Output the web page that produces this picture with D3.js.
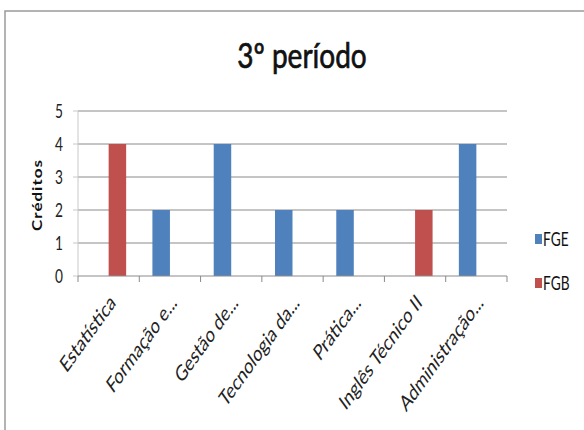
<!DOCTYPE html>
<html>
<head>
<meta charset="utf-8">
<script src="https://cdn.jsdelivr.net/npm/d3@7"></script>
<style>
  body { margin: 0; background: #fff; }
  text { font-family: Lato, "Noto Sans", sans-serif; }
</style>
</head>
<body>
<div id="chart"></div>
<script>
// chart values
const categories = ["Estatística", "Formação e...", "Gestão de...", "Tecnologia da...",
    "Prática...", "Inglês Técnico II", "Administração..."];
const seriesNames = ["FGE", "FGB"];
const fgeValues = [0, 2, 4, 2, 2, 0, 4];
const fgbValues = [4, 0, 0, 0, 0, 2, 0];
const yTicks = [0, 1, 2, 3, 4, 5];
const titleText = "3º período";
const yTitle = "Créditos";

const colors = {FGE: "#4f81bd", FGB: "#c0504d"};
const width = 584, height = 430;
const sx = 0.72; // picture is squeezed sideways

let svg = d3.select("#chart").append("svg")
    .attr("width", width)
    .attr("height", height);

// outer chart border
svg.append("rect")
    .attr("x", 5).attr("y", 11)
    .attr("width", 620).attr("height", 460)
    .attr("fill", "#fff")
    .attr("stroke", "#9a9a9a")
    .attr("stroke-width", 1.5);

let x = d3.scaleBand()
    .domain(categories)
    .range([78, 507]);

let x1 = d3.scaleBand()
    .domain(seriesNames)
    .range([0, x.bandwidth()])
    .paddingOuter(0.75);

let y = d3.scaleLinear()
    .domain([0, 5])
    .range([276, 111]);

// gridlines
svg.append("g").selectAll("line")
    .data(yTicks.filter(d => d > 0))
    .enter()
    .append("line")
    .attr("x1", x.range()[0]).attr("x2", x.range()[1])
    .attr("y1", d => y(d)).attr("y2", d => y(d))
    .attr("stroke", "#8a8a8a")
    .attr("stroke-width", 1);

// y axis line + ticks
svg.append("line")
    .attr("x1", 78).attr("x2", 78)
    .attr("y1", y(5)).attr("y2", y(0))
    .attr("stroke", "#c8c8c8");
svg.append("g").selectAll("line")
    .data(yTicks)
    .enter()
    .append("line")
    .attr("x1", 73).attr("x2", 78)
    .attr("y1", d => y(d)).attr("y2", d => y(d))
    .attr("stroke", "#c8c8c8");

svg.append("g").selectAll("text")
    .data(yTicks)
    .enter()
    .append("text")
    .attr("transform", d => `translate(63,${y(d) + 7}) scale(${sx},1)`)
    .attr("text-anchor", "end")
    .attr("font-size", 19)
    .attr("fill", "#222")
    .text(d => d);

// bars
let rows = categories.map((c, i) => ({cat: c, FGE: fgeValues[i], FGB: fgbValues[i]}));
let groups = svg.append("g").selectAll("g")
    .data(rows)
    .enter()
    .append("g")
    .attr("transform", d => `translate(${x(d.cat)},0)`);

groups.selectAll("rect")
    .data(d => seriesNames.map(s => ({key: s, value: d[s]})))
    .enter()
    .append("rect")
    .attr("x", d => x1(d.key))
    .attr("width", x1.bandwidth())
    .attr("y", d => y(d.value))
    .attr("height", d => y(0) - y(d.value))
    .attr("fill", d => colors[d.key]);

// x axis line + ticks
svg.append("line")
    .attr("x1", 78).attr("x2", 507)
    .attr("y1", y(0)).attr("y2", y(0))
    .attr("stroke", "#8a8a8a");
svg.append("g").selectAll("line")
    .data(categories.concat(["end"]))
    .enter()
    .append("line")
    .attr("x1", (d, i) => 78 + i * x.bandwidth())
    .attr("x2", (d, i) => 78 + i * x.bandwidth())
    .attr("y1", y(0)).attr("y2", y(0) + 6)
    .attr("stroke", "#8a8a8a");

// category labels
svg.append("g").selectAll("text")
    .data(categories)
    .enter()
    .append("text")
    .attr("transform", d => `translate(${x(d) + x.bandwidth() / 2 + 8},304) scale(${sx},1) rotate(-45)`)
    .attr("text-anchor", "end")
    .attr("font-size", 22)
    .attr("fill", "#222")
    .text(d => d);

// title
svg.append("text")
    .attr("transform", `translate(302,68) scale(0.8,1)`)
    .attr("text-anchor", "middle")
    .attr("font-size", 35)
    .attr("fill", "#111")
    .attr("stroke", "#111")
    .attr("stroke-width", 0.7)
    .text(titleText);

// y axis title
svg.append("text")
    .attr("transform", `translate(42,195) scale(${sx},1) rotate(-90)`)
    .attr("text-anchor", "middle")
    .attr("font-size", 17)
    .attr("font-weight", "bold")
    .attr("letter-spacing", 1)
    .attr("fill", "#111")
    .text(yTitle);

// legend
let legend = svg.append("g").selectAll("g")
    .data(seriesNames)
    .enter()
    .append("g")
    .attr("transform", (d, i) => `translate(535,${239 + i * 44})`);
legend.append("rect")
    .attr("x", 0).attr("y", -5)
    .attr("width", 7).attr("height", 10)
    .attr("fill", d => colors[d]);
legend.append("text")
    .attr("transform", `translate(8,7) scale(${sx},1)`)
    .attr("font-size", 19)
    .attr("fill", "#111")
    .text(d => d);
</script>
</body>
</html>
